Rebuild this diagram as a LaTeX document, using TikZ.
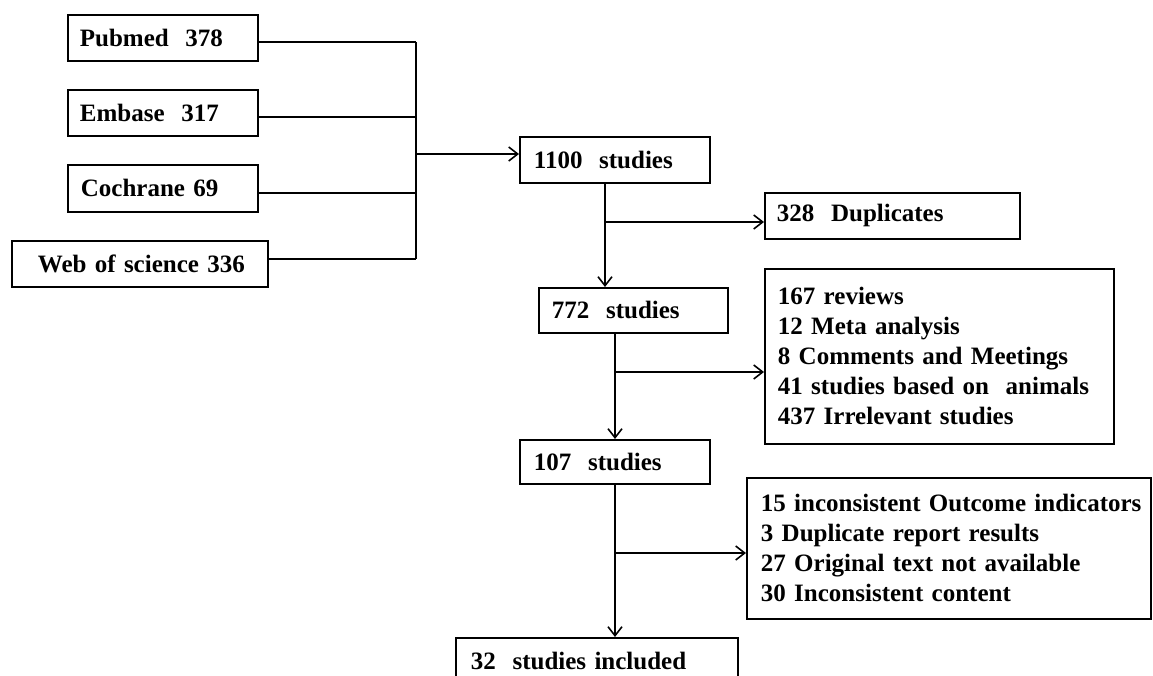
\documentclass[tikz,border=0pt]{standalone}
\usepackage{fontspec}
\setmainfont{Liberation Serif}
\usetikzlibrary{arrows.meta}
\begin{document}
\begin{tikzpicture}[x=1pt,y=-1pt,
  box/.style={draw, line width=1.8pt, anchor=north west, align=left, inner ysep=0pt,
    font=\fontsize{25}{30}\selectfont\bfseries},
  conn/.style={line width=1.6pt},
  arr/.style={conn, -{Straight Barb[length=9pt,width=14pt,line width=1.6pt]}}]
\useasboundingbox (0,0) rectangle (1153,675);

% source boxes
\node[box, text width=166pt, inner xsep=12pt, minimum height=46pt] (pub) at (67,14) {\mbox{Pubmed\ \ 378}};
\node[box, text width=166pt, inner xsep=12pt, minimum height=46pt] (emb) at (67,89) {\mbox{Embase\ \ 317}};
\node[box, text width=164pt, inner xsep=13pt, minimum height=47pt] (coc) at (67,164) {\mbox{Cochrane 69}};
\node[box, text width=204pt, inner xsep=26pt, minimum height=46pt] (web) at (11,240) {\mbox{Web of science 336}};

% main flow
\node[box, text width=162pt, inner xsep=14pt, minimum height=46pt] (s1100) at (519,136) {\mbox{1100\ \ studies}};
\node[box, text width=231pt, inner xsep=12pt, minimum height=46pt] (dup) at (764,192) {\mbox{328\ \ Duplicates}};
\node[box, text width=163pt, inner xsep=13pt, minimum height=45pt] (s772) at (538,287) {\mbox{772\ \ studies}};
\node[box, text width=323pt, inner xsep=13pt, minimum height=175pt] (ex1) at (764,268)
  {\mbox{167 reviews}\\ \mbox{12 Meta analysis}\\ \mbox{8 Comments and Meetings}\\
   \mbox{41 studies based on\ \ animals}\\ \mbox{437 Irrelevant studies}};
\node[box, text width=162pt, inner xsep=14pt, minimum height=44pt] (s107) at (519,439) {\mbox{107\ \ studies}};
\node[box, text width=376pt, inner xsep=14pt, minimum height=141pt] (ex2) at (746,477)
  {\mbox{15 inconsistent Outcome indicators}\\ \mbox{3 Duplicate report results}\\
   \mbox{27 Original text not available}\\ \mbox{30 Inconsistent content}};
\node[box, text width=252pt, inner xsep=15pt, minimum height=46pt] (s32) at (455,637) {\mbox{32\ \ studies included}};

% merge of sources
\coordinate (jp) at (416,42);
\coordinate (je) at (416,117);
\coordinate (jc) at (416,193);
\coordinate (jw) at (416,259);
\coordinate (jm) at (416,154);
\draw[conn] (pub.east |- jp) -- (jp);
\draw[conn] (emb.east |- je) -- (je);
\draw[conn] (coc.east |- jc) -- (jc);
\draw[conn] (web.east |- jw) -- (jw);
\draw[conn] (jp) -- (jw);
\draw[arr] (jm) -- (s1100.west |- jm);

% downward flow with exclusions
\coordinate (b1) at (605,222);
\draw[arr] (s1100.south -| b1) -- (s772.north -| b1);
\draw[arr] (b1) -- (dup.west |- b1);
\coordinate (b2) at (615,372);
\draw[arr] (s772.south -| b2) -- (s107.north -| b2);
\draw[arr] (b2) -- (ex1.west |- b2);
\coordinate (b3) at (615,553);
\draw[arr] (s107.south -| b3) -- (s32.north -| b3);
\draw[arr] (b3) -- (ex2.west |- b3);
\end{tikzpicture}
\end{document}
